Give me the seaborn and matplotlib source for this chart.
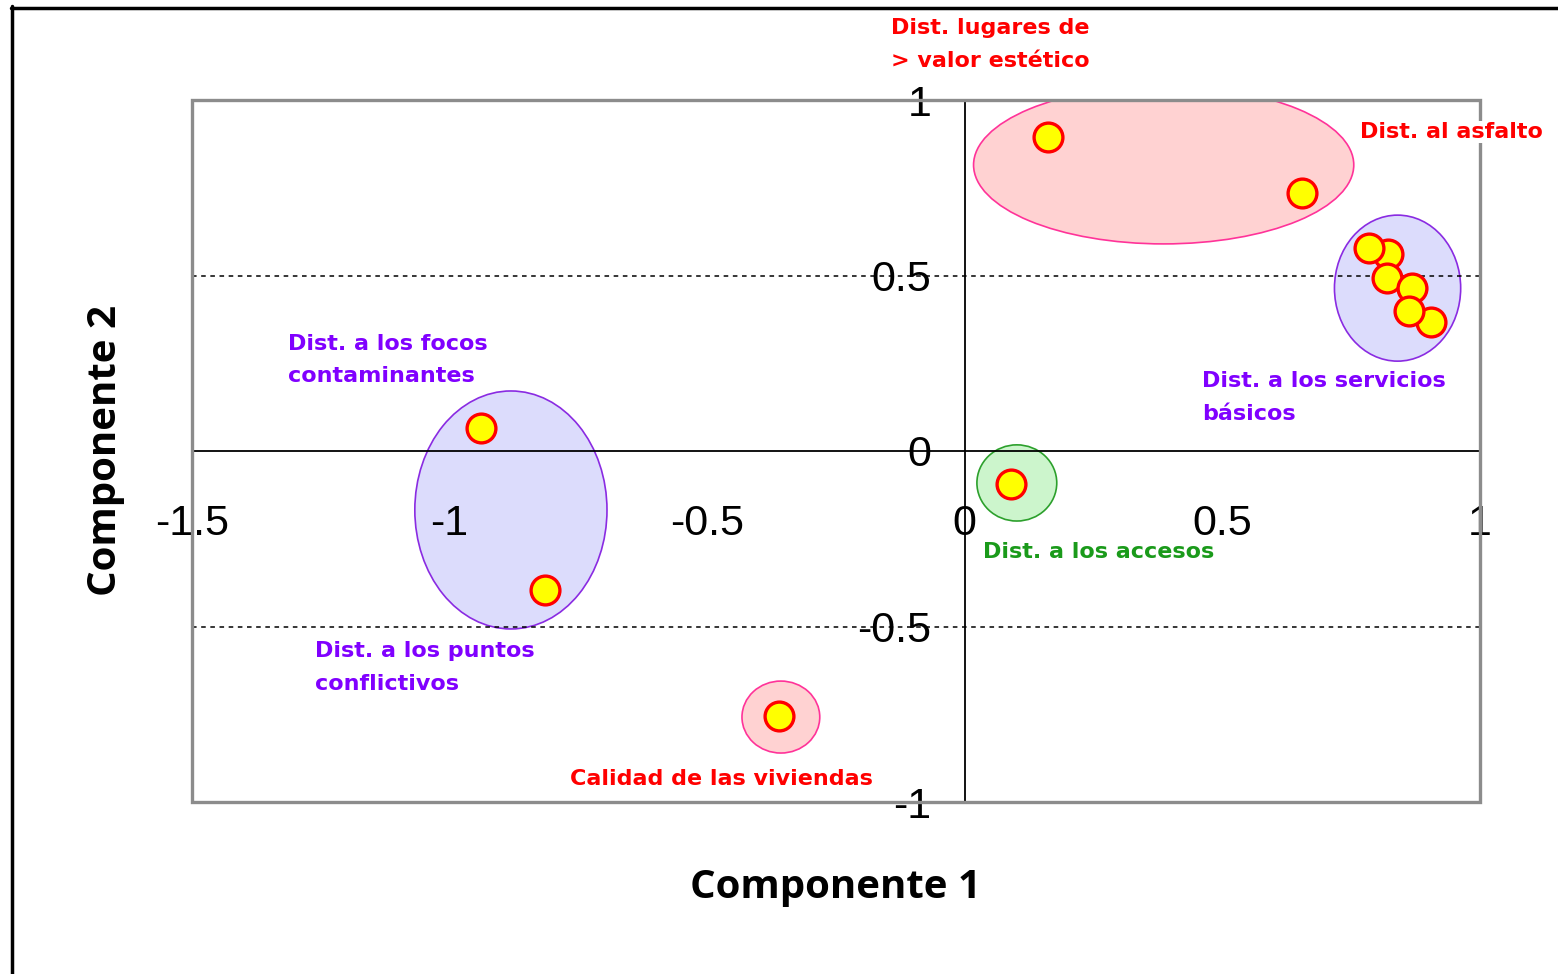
import matplotlib
matplotlib.use("Agg")
import matplotlib.pyplot as plt
import seaborn as sns
import pandas as pd
from matplotlib.patches import Ellipse, Rectangle
from matplotlib.lines import Line2D

# loadings (componente 1, componente 2)
comp1 = [0.161, 0.654, 0.821, 0.784, 0.819, 0.868, 0.905, 0.862,
         -0.939, -0.815, 0.089, -0.361]
comp2 = [0.895, 0.735, 0.561, 0.578, 0.493, 0.464, 0.368, 0.399,
         0.066, -0.396, -0.094, -0.755]

# groups drawn as ellipses: centre x, centre y, width, height
ell_x = [0.386, 0.840, -0.881, 0.101, -0.357]
ell_y = [0.815, 0.464, -0.168, -0.091, -0.758]
ell_w = [0.738, 0.245, 0.373, 0.155, 0.151]
ell_h = [0.450, 0.416, 0.678, 0.217, 0.205]
ell_kind = ["red", "blue", "blue", "green", "red"]

labels = ["Dist. lugares de\n> valor estético", "Dist. al asfalto",
          "Dist. a los servicios\nbásicos", "Dist. a los focos\ncontaminantes",
          "Dist. a los puntos\nconflictivos", "Dist. a los accesos",
          "Calidad de las viviendas"]
label_x = [-0.1436, 0.767, 0.460, -1.314, -1.262, 0.035, -0.767]
label_y = [1.158, 0.909, 0.152, 0.259, -0.617, -0.288, -0.934]
label_kind = ["red", "red", "blue", "blue", "blue", "green", "red"]

xticks = [-1.5, -1, -0.5, 0, 0.5, 1]
xtick_labels = ["-1.5", "-1", "-0.5", "0", "0.5", "1"]
yticks = [-1, -0.5, 0, 0.5, 1]
ytick_labels = ["-1", "-0.5", "0", "0.5", "1"]

fills = {"red": "#ffd2d2", "blue": "#dcdcfc", "green": "#ccf5cc"}
edges = {"red": "#ff3399", "blue": "#8a2be2", "green": "#2ca02c"}
text_col = {"red": "#ff0000", "blue": "#8000ff", "green": "#1a9a1a"}

sns.set_style("white")
fig = plt.figure(figsize=(15.58, 9.74), dpi=100)
ax = fig.add_axes([192 / 1558, 1 - 802 / 974, 1288 / 1558, 702 / 974])
ax.set_xlim(-1.5, 1)
ax.set_ylim(-1, 1)
ax.set_axisbelow(False)

for cx, cy, w, h, k in zip(ell_x, ell_y, ell_w, ell_h, ell_kind):
    ax.add_patch(Ellipse((cx, cy), w, h, facecolor=fills[k],
                         edgecolor=edges[k], lw=1.2, zorder=1))

ax.axhline(0.5, color="black", ls=(0, (3, 3)), lw=1.1, zorder=2)
ax.axhline(-0.5, color="black", ls=(0, (3, 3)), lw=1.1, zorder=2)

df = pd.DataFrame({"c1": comp1, "c2": comp2})
sns.scatterplot(data=df, x="c1", y="c2", ax=ax, s=430, color="#ffff00",
                edgecolor="#ff0000", linewidth=2.4, zorder=5, legend=False)

# axes through the origin
for side in ["top", "right"]:
    ax.spines[side].set_visible(False)
ax.spines["left"].set_position("zero")
ax.spines["bottom"].set_position("zero")
for side in ["left", "bottom"]:
    ax.spines[side].set_color("black")
    ax.spines[side].set_linewidth(1.3)
    ax.spines[side].set_zorder(3)

ax.set_xticks(xticks)
ax.set_xticklabels(xtick_labels)
ax.set_yticks(yticks)
ax.set_yticklabels(ytick_labels)
ax.tick_params(axis="x", direction="out", length=8, width=1.3, pad=30,
               labelsize=31, colors="black")
ax.tick_params(axis="y", direction="out", length=10, width=1.3, pad=14,
               labelsize=31, colors="black")
for t in ax.get_xticklabels() + ax.get_yticklabels():
    t.set_fontfamily("Liberation Sans")
ax.set_xlabel("")
ax.set_ylabel("")

# grey frame around the plotting area
ax.add_patch(Rectangle((0, 0), 1, 1, transform=ax.transAxes, fill=False,
                       edgecolor="#8c8c8c", lw=2.4, clip_on=False, zorder=4))

for txt, tx, ty, k in zip(labels, label_x, label_y, label_kind):
    box = None
    if "asfalto" in txt:
        box = dict(facecolor="white", edgecolor="none", pad=1)
    ax.text(tx, ty, txt, color=text_col[k], fontsize=16, fontweight="bold",
            family="DejaVu Sans", ha="left", va="center", linespacing=1.78,
            zorder=6, clip_on=False, bbox=box)

ax.text(0.5, -0.122, "Componente 1", transform=ax.transAxes, ha="center",
        va="center", fontsize=29, fontweight="bold", family="Open Sans",
        color="black")
ax.text(-0.0675, 0.5, "Componente 2", transform=ax.transAxes, ha="center",
        va="center", rotation=90, fontsize=29, fontweight="bold",
        family="Open Sans", color="black")

# picture frame lines (top and left)
fig.add_artist(Line2D([11 / 1558, 1], [1 - 7.5 / 974, 1 - 7.5 / 974],
                      transform=fig.transFigure, color="black", lw=2.5))
fig.add_artist(Line2D([12 / 1558, 12 / 1558], [0, 1 - 6 / 974],
                      transform=fig.transFigure, color="black", lw=2.5))

fig.savefig("out.png", dpi=100)
